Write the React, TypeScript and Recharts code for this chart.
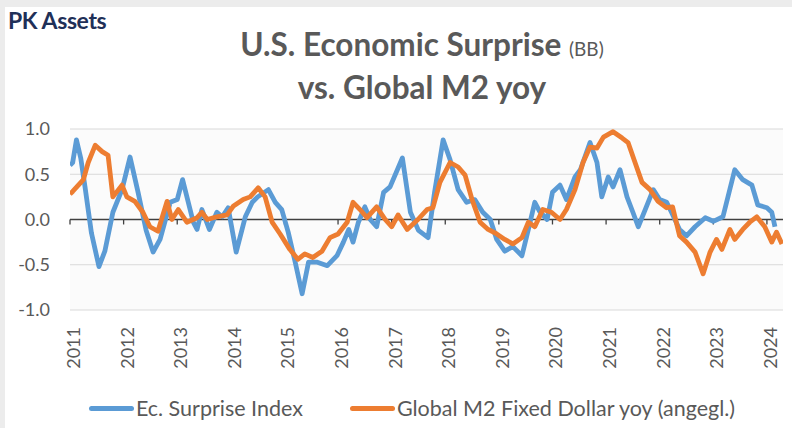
import React from "react"
import {
  LineChart,
  Line,
  XAxis,
  YAxis,
  CartesianGrid,
  ReferenceLine,
  Legend,
} from "recharts"

// Ec. Surprise Index (decimal year / value)
const surpriseDates = [
  2011.0, 2011.05, 2011.12, 2011.2, 2011.28, 2011.4, 2011.54, 2011.65, 2011.8, 2011.97,
  2012.12, 2012.27, 2012.42, 2012.55, 2012.68, 2012.87, 2013.0, 2013.1, 2013.3, 2013.37,
  2013.46, 2013.6, 2013.74, 2013.84, 2013.95, 2014.1, 2014.27, 2014.4, 2014.5, 2014.7,
  2014.83, 2014.95, 2015.07, 2015.2, 2015.33, 2015.45, 2015.6, 2015.8, 2015.98, 2016.1,
  2016.2, 2016.28, 2016.38, 2016.5, 2016.6, 2016.72, 2016.85, 2016.97, 2017.2, 2017.35,
  2017.5, 2017.68, 2017.8, 2017.96, 2018.09, 2018.24, 2018.4, 2018.55, 2018.7, 2018.84,
  2018.96, 2019.11, 2019.26, 2019.43, 2019.55, 2019.67, 2019.76, 2019.9, 2020.0, 2020.14,
  2020.26, 2020.42, 2020.52, 2020.7, 2020.83, 2020.92, 2021.04, 2021.13, 2021.26, 2021.39,
  2021.5, 2021.6, 2021.73, 2021.88, 2022.0, 2022.13, 2022.22, 2022.37, 2022.5, 2022.66,
  2022.85, 2023.0, 2023.18, 2023.4, 2023.55, 2023.72, 2023.83, 2024.0, 2024.09, 2024.15,
]
const surpriseValues = [
  0.6, 0.63, 0.88, 0.68, 0.36, -0.15, -0.52, -0.35, 0.08, 0.33,
  0.69, 0.3, -0.12, -0.36, -0.22, 0.19, 0.22, 0.44, -0.03, -0.11,
  0.11, -0.11, 0.08, 0.03, 0.13, -0.36, 0.03, 0.19, 0.25, 0.33,
  0.19, 0.11, -0.14, -0.47, -0.82, -0.47, -0.47, -0.51, -0.4, -0.25,
  -0.11, -0.25, -0.03, 0.14, 0.0, -0.08, 0.3, 0.36, 0.68, 0.08,
  -0.12, -0.2, 0.3, 0.88, 0.66, 0.33, 0.19, 0.22, 0.08, 0.0,
  -0.22, -0.35, -0.3, -0.4, -0.11, 0.19, 0.09, 0.0, 0.3, 0.38,
  0.22, 0.47, 0.55, 0.85, 0.63, 0.25, 0.47, 0.36, 0.55, 0.25,
  0.08, -0.08, 0.11, 0.33, 0.22, 0.19, 0.08, -0.11, -0.18, -0.08,
  0.02, -0.02, 0.03, 0.55, 0.44, 0.38, 0.16, 0.13, 0.08, -0.08,
]

// Global M2 Fixed Dollar yoy (angegl.)
const m2Dates = [
  2011.0, 2011.05, 2011.25, 2011.34, 2011.47, 2011.6, 2011.71, 2011.8, 2011.97, 2012.06,
  2012.21, 2012.36, 2012.49, 2012.64, 2012.81, 2012.9, 2013.02, 2013.18, 2013.37, 2013.46,
  2013.56, 2013.74, 2013.93, 2014.05, 2014.23, 2014.36, 2014.51, 2014.64, 2014.77, 2014.92,
  2015.1, 2015.25, 2015.38, 2015.53, 2015.7, 2015.85, 2016.0, 2016.17, 2016.28, 2016.41,
  2016.54, 2016.72, 2016.88, 2017.0, 2017.12, 2017.29, 2017.49, 2017.66, 2017.77, 2017.9,
  2018.09, 2018.24, 2018.37, 2018.5, 2018.65, 2018.8, 2018.96, 2019.11, 2019.26, 2019.43,
  2019.55, 2019.67, 2019.82, 2019.98, 2020.14, 2020.26, 2020.42, 2020.57, 2020.7, 2020.83,
  2020.95, 2021.13, 2021.3, 2021.41, 2021.54, 2021.67, 2021.82, 2021.97, 2022.13, 2022.24,
  2022.37, 2022.5, 2022.66, 2022.81, 2022.94, 2023.06, 2023.16, 2023.31, 2023.4, 2023.55,
  2023.68, 2023.81, 2023.96, 2024.09, 2024.18, 2024.28,
]
const m2Values = [
  0.28, 0.31, 0.44, 0.63, 0.82, 0.75, 0.71, 0.25, 0.38, 0.25,
  0.2, 0.08, -0.08, -0.13, 0.2, 0.0, 0.11, -0.03, 0.02, 0.08,
  0.0, 0.03, 0.05, 0.15, 0.22, 0.25, 0.35, 0.25, -0.03, -0.16,
  -0.33, -0.44, -0.38, -0.42, -0.35, -0.2, -0.16, -0.03, 0.19, 0.11,
  0.02, 0.14, 0.0, -0.08, 0.05, -0.11, 0.0, 0.11, 0.13, 0.41,
  0.63, 0.58, 0.49, 0.22, -0.03, -0.11, -0.16, -0.22, -0.27, -0.2,
  -0.03, -0.08, 0.11, 0.08, 0.0, 0.11, 0.33, 0.63, 0.8, 0.79,
  0.91, 0.97, 0.9, 0.85, 0.63, 0.41, 0.33, 0.2, 0.13, 0.14,
  -0.18, -0.25, -0.36, -0.6, -0.36, -0.22, -0.33, -0.11, -0.22, -0.11,
  -0.03, 0.03, -0.08, -0.25, -0.14, -0.27,
]

const yearTicks = [2011, 2012, 2013, 2014, 2015, 2016, 2017, 2018, 2019, 2020, 2021, 2022, 2023, 2024]
const valueTicks = [-1, -0.5, 0, 0.5, 1]

const BLUE = "#5b9bd5"
const ORANGE = "#ed7d31"
const FONT = "Lato, 'Open Sans', sans-serif"

const surpriseData = surpriseDates.map((t, i) => ({ t, v: surpriseValues[i] }))
const m2Data = m2Dates.map((t, i) => ({ t, v: m2Values[i] }))

const legendItems = [
  { name: "Ec. Surprise Index", color: BLUE },
  { name: "Global M2 Fixed Dollar yoy (angegl.)", color: ORANGE },
]

function YearTick(props: any) {
  const { x, payload } = props
  const y = 327
  return (
    <text
      x={x + 3}
      y={y}
      transform={`rotate(-90, ${x + 3}, ${y})`}
      textAnchor="end"
      dominantBaseline="central"
      fontFamily={FONT}
      fontSize={18}
      fill="#595959"
    >
      {payload.value}
    </text>
  )
}

function ChartLegend() {
  return (
    <div
      style={{
        display: "flex",
        justifyContent: "center",
        gap: 47,
        paddingLeft: 32,
        fontFamily: FONT,
        fontSize: 21.5,
        color: "#595959",
      }}
    >
      {legendItems.map((item) => (
        <div key={item.name} style={{ display: "flex", alignItems: "center" }}>
          <span style={{ display: "inline-block", width: 45, height: 5, borderRadius: 2.5, background: item.color, marginRight: 2 }} />
          {item.name}
        </div>
      ))}
    </div>
  )
}

export default function App() {
  return (
    <div
      style={{
        position: "absolute",
        left: 0,
        top: 0,
        width: 792,
        height: 428,
        background: "#ececec",
        overflow: "hidden",
      }}
    >
      <div style={{ position: "absolute", left: 5, top: 7, width: 787, height: 421, background: "#ffffff" }} />
      <div
        style={{
          position: "absolute",
          left: 8,
          top: 6,
          fontFamily: FONT,
          fontWeight: 700,
          fontSize: 23,
          letterSpacing: -0.4,
          color: "#1f3058",
        }}
      >
        PK Assets
      </div>
      <div
        style={{
          position: "absolute",
          left: 172,
          width: 500,
          top: 25,
          textAlign: "center",
          fontFamily: FONT,
          fontWeight: 700,
          fontSize: 31.5,
          lineHeight: "38px",
          color: "#595959",
        }}
      >
        U.S. Economic Surprise <span style={{ fontSize: 19, fontWeight: 400 }}>(BB)</span>
        <br />
        vs. Global M2 yoy
      </div>
      <div style={{ position: "absolute", left: 0, top: 0 }}>
        <LineChart width={792} height={428} margin={{ top: 129, right: 9, bottom: 0, left: 0 }}>
          <CartesianGrid vertical={false} stroke="#d9d9d9" fill="#fbfbfb" />
          <XAxis
            dataKey="t"
            type="number"
            domain={[2011, 2024.3]}
            ticks={yearTicks}
            allowDataOverflow
            axisLine={false}
            tickLine={false}
            height={92}
            tick={<YearTick />}
            interval={0}
          />
          <YAxis
            type="number"
            domain={[-1, 1]}
            ticks={valueTicks}
            width={70}
            axisLine={false}
            tickLine={false}
            tickSize={0}
            tickMargin={20}
            tickFormatter={(v: number) => v.toFixed(1)}
            tick={{ fontFamily: FONT, fontSize: 18, fill: "#595959" }}
          />
          <ReferenceLine y={0} stroke="#404040" strokeWidth={1.3} />
          {yearTicks.map((yr) => (
            <ReferenceLine
              key={yr}
              segment={[
                { x: yr, y: 0 },
                { x: yr, y: -0.055 },
              ]}
              stroke="#404040"
              strokeWidth={1.3}
            />
          ))}
          <Line
            data={surpriseData}
            dataKey="v"
            name="Ec. Surprise Index"
            type="linear"
            stroke={BLUE}
            strokeWidth={4.8}
            strokeLinejoin="round"
            dot={false}
            isAnimationActive={false}
          />
          <Line
            data={m2Data}
            dataKey="v"
            name="Global M2 Fixed Dollar yoy (angegl.)"
            type="linear"
            stroke={ORANGE}
            strokeWidth={4.8}
            strokeLinejoin="round"
            dot={false}
            isAnimationActive={false}
          />
          <Legend
            content={<ChartLegend />}
            wrapperStyle={{ position: "absolute", left: 0, top: 395, width: 792 }}
          />
        </LineChart>
      </div>
    </div>
  )
}
